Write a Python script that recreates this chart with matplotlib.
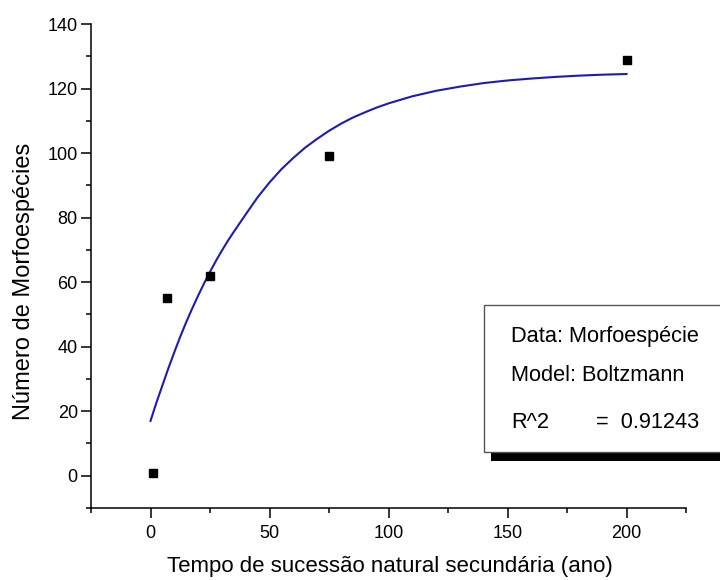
import matplotlib
matplotlib.use("Agg")
import matplotlib.pyplot as plt
from matplotlib.patches import Rectangle
from matplotlib.ticker import MultipleLocator

plt.rcParams['font.family'] = ['Liberation Sans', 'DejaVu Sans']

# observed points
tempo = [1, 7, 25, 75, 200]
morfoespecies = [1, 55, 62, 99, 129]

# Boltzmann fit curve
fit_x = [0, 2.5, 5, 7.5, 10, 12.5, 15, 17.5, 20, 22.5, 25, 27.5, 30, 32.5, 35,
         37.5, 40, 45, 50, 55, 60, 65, 70, 75, 80, 85, 90, 95, 100, 110, 120,
         130, 140, 150, 160, 170, 180, 190, 200]
fit_y = [17, 22.7, 28, 33.3, 38.3, 43.1, 47.6, 51.8, 55.8, 59.6, 63.2, 66.6,
         69.8, 72.8, 75.6, 78.3, 81.0, 86.3, 90.9, 95.0, 98.5, 101.7, 104.4,
         106.9, 109.1, 111.0, 112.6, 114.1, 115.4, 117.6, 119.3, 120.6, 121.7,
         122.5, 123.1, 123.6, 124.0, 124.3, 124.5]

fig = plt.figure(figsize=(7.2, 5.8), dpi=100)
ax = fig.add_axes([0.1264, 0.1241, 0.8264, 0.8345])

ax.plot(fit_x, fit_y, color='#1c1cb4', lw=1.5, zorder=2)
ax.plot(tempo, morfoespecies, 's', color='black', ms=6, zorder=3)

ax.set_xlim(-25, 225)
ax.set_ylim(-10, 140)
ax.xaxis.set_major_locator(MultipleLocator(50))
ax.xaxis.set_minor_locator(MultipleLocator(25))
ax.yaxis.set_major_locator(MultipleLocator(20))
ax.yaxis.set_minor_locator(MultipleLocator(10))

for s in ['top', 'right']:
    ax.spines[s].set_visible(False)
for s in ['left', 'bottom']:
    ax.spines[s].set_linewidth(1.1)

ax.tick_params(which='major', direction='out', length=7, width=1.1, labelsize=13)
ax.tick_params(which='minor', direction='out', length=3.6, width=1.1)
ax.tick_params(axis='x', which='major', pad=5)
ax.tick_params(axis='y', which='major', pad=2.5)

ax.set_xlabel('Tempo de sucessão natural secundária (ano)', fontsize=16)
ax.set_ylabel('Número de Morfoespécies', fontsize=17)
ax.xaxis.set_label_coords(0.503, -0.099)
ax.yaxis.set_label_coords(-0.094, 0.469)

# fit results box with drop shadow
shadow = Rectangle((491 / 720, 1 - 461 / 580), 0.5, 9 / 580, transform=fig.transFigure,
                   facecolor='black', edgecolor='none', zorder=4)
box = Rectangle((484 / 720, 1 - 452 / 580), 0.5, 147 / 580, transform=fig.transFigure,
                facecolor='white', edgecolor='#555555', lw=1, zorder=5)
fig.patches.extend([shadow, box])

fig.text(511 / 720, 1 - 342 / 580, 'Data: Morfoespécie', fontsize=15.7, zorder=6)
fig.text(511 / 720, 1 - 381 / 580, 'Model: Boltzmann', fontsize=15.7, zorder=6)
fig.text(511 / 720, 1 - 428 / 580, 'R^2', fontsize=15.7, zorder=6)
fig.text(596 / 720, 1 - 428 / 580, '=  0.91243', fontsize=15.7, zorder=6)

fig.savefig('out.png', dpi=100)
